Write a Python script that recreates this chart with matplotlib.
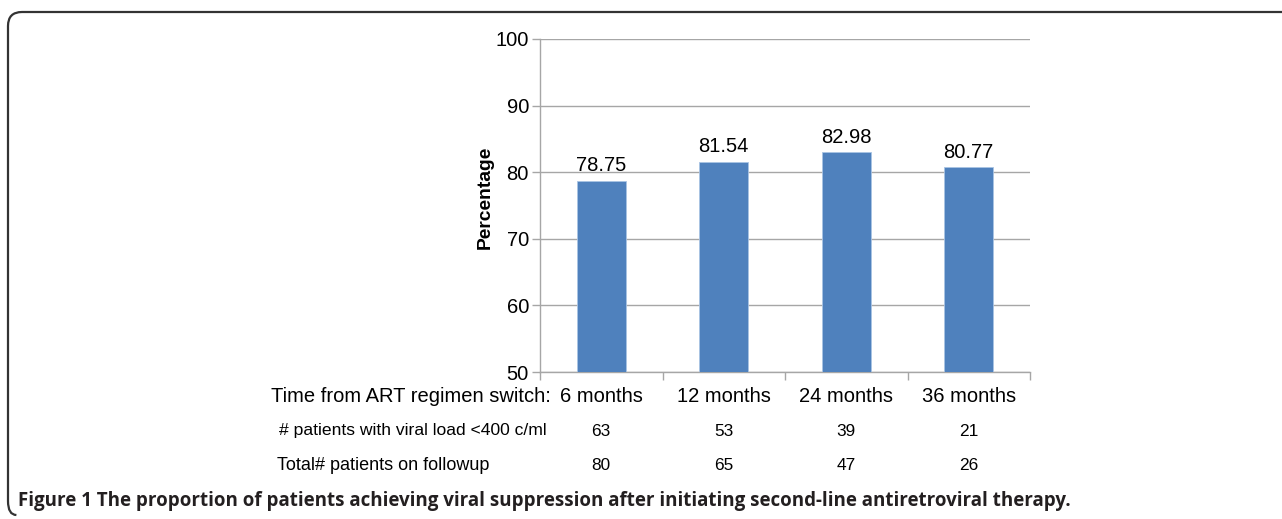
import numpy as np
import matplotlib
matplotlib.use('Agg')
from matplotlib import pyplot as plt
from matplotlib import transforms
from matplotlib.path import Path
from matplotlib.patches import PathPatch

# data
periods = ['6 months', '12 months', '24 months', '36 months']
percent_suppressed = [78.75, 81.54, 82.98, 80.77]
n_suppressed = [63, 53, 39, 21]
n_followup = [80, 65, 47, 26]
yticks = [50, 60, 70, 80, 90, 100]

W, H = 1282, 519
fig = plt.figure(figsize=(W / 100, H / 100), dpi=100)
plt.rcParams['font.family'] = 'Liberation Sans'

# background layer in pixel coordinates (for the frame and row texts)
bg = fig.add_axes([0, 0, 1, 1])
bg.set_xlim(0, W)
bg.set_ylim(H, 0)
bg.axis('off')

# rounded frame open at the bottom and right
r = 14
verts = [(W + 5, 12), (8 + r, 12), (8, 12), (8, 12 + r), (8, 515 - r), (8, 515), (8 + r * 0.6, 515)]
codes = [Path.MOVETO, Path.LINETO, Path.CURVE3, Path.CURVE3, Path.LINETO, Path.CURVE3, Path.CURVE3]
bg.add_patch(PathPatch(Path(verts, codes), fill=False, edgecolor='#333333', linewidth=1.6))

# main chart
ax = fig.add_axes([540 / W, 1 - 372 / H, 490 / W, 333 / H])
x = np.arange(len(periods))
bars = ax.bar(x, percent_suppressed, width=0.4, color='#4f81bd', edgecolor='#a9c4e4', linewidth=0.6, zorder=3)
ax.set_xlim(-0.5, len(periods) - 0.5)
ax.set_ylim(50, 100)
ax.set_yticks(yticks)
ax.yaxis.grid(True, color='#a6a6a6', linewidth=1.0)
ax.set_axisbelow(True)
for s in ['top', 'right']:
    ax.spines[s].set_visible(False)
for s in ['left', 'bottom']:
    ax.spines[s].set_color('#a6a6a6')
    ax.spines[s].set_linewidth(1.0)

ax.set_xticks(np.arange(len(periods) + 1) - 0.5)
ax.set_xticklabels([])
ax.tick_params(axis='x', length=6, color='#a6a6a6', width=1.0)
ax.tick_params(axis='y', length=6, color='#a6a6a6', width=1.0, pad=2, labelsize=14.5)
ax.set_ylabel('Percentage', fontsize=13.9, fontweight='bold')
ax.yaxis.set_label_coords(-0.094, 0.525)

for xi, v in zip(x, percent_suppressed):
    ax.annotate(f'{v:.2f}', (xi, v), xytext=(0, 4), textcoords='offset points',
                ha='center', va='bottom', fontsize=14.5)

# table rows below the axis
narrow = ['Liberation Sans Narrow', 'Liberation Sans']
tr = transforms.blended_transform_factory(ax.transData, bg.transData)
bg.text(551, 397, 'Time from ART regimen switch:', ha='right', va='center', fontsize=14.5)
bg.text(279, 431, '# patients with viral load <400 c/ml', ha='left', va='center',
        fontsize=12.6, family=narrow)
bg.text(277, 465, 'Total# patients on followup', ha='left', va='center',
        fontsize=13.0, family=narrow)
for xi, p, a, b in zip(x, periods, n_suppressed, n_followup):
    ax.text(xi, 397, p, transform=tr, ha='center', va='center', fontsize=14.5)
    ax.text(xi, 431, str(a), transform=tr, ha='center', va='center', fontsize=12.4)
    ax.text(xi, 465, str(b), transform=tr, ha='center', va='center', fontsize=12.4)

# caption
bg.text(18, 501, 'Figure 1 The proportion of patients achieving viral suppression after initiating second-line antiretroviral therapy.',
        ha='left', va='center', fontsize=13.5, fontweight='bold', family='Open Sans', color='#231f20')

fig.savefig('out.png', dpi=100)
